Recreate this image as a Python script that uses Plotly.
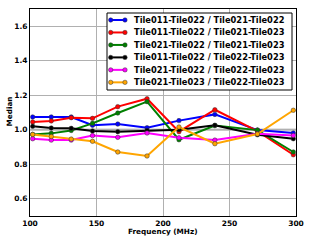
import plotly.graph_objects as go

freq = [102, 116, 131, 147, 166, 188, 212, 239, 271, 298]

names = [
    "Tile011-Tile022 / Tile021-Tile022",
    "Tile011-Tile022 / Tile021-Tile023",
    "Tile021-Tile022 / Tile021-Tile023",
    "Tile011-Tile022 / Tile022-Tile023",
    "Tile021-Tile022 / Tile022-Tile023",
    "Tile021-Tile023 / Tile022-Tile023",
]
colors = ["#0000ff", "#ff0000", "#008000", "#000000", "#ff00ff", "#ffa500"]

blue = [1.074, 1.074, 1.074, 1.026, 1.033, 1.012, 1.053, 1.089, 0.998, 0.981]
red = [1.045, 1.051, 1.070, 1.066, 1.134, 1.180, 0.989, 1.116, 0.992, 0.855]
green = [0.973, 0.979, 0.996, 1.037, 1.097, 1.163, 0.942, 1.024, 0.998, 0.871]
black = [1.020, 1.010, 1.008, 0.993, 0.989, 0.996, 1.000, 1.026, 0.971, 0.948]
magenta = [0.948, 0.940, 0.940, 0.966, 0.956, 0.981, 0.954, 0.940, 0.977, 0.967]
orange = [0.973, 0.961, 0.946, 0.933, 0.871, 0.848, 1.016, 0.919, 0.975, 1.113]

series = [blue, red, green, black, magenta, orange]

xticks = [100, 150, 200, 250, 300]
yticks = [0.6, 0.8, 1.0, 1.2, 1.4, 1.6]

W, H = 331, 242
ML, MR, MT, MB = 30, 35, 9, 26
PW, PH = W - ML - MR, H - MT - MB

def px(xp):
    return (xp - ML) / PW

def py(yp):
    return 1 - (yp - MT) / PH

FONT = "DejaVu Sans"

fig = go.Figure()
for name, col, vals in zip(names, colors, series):
    fig.add_trace(go.Scatter(
        x=freq, y=vals, name=name, mode="lines+markers",
        line=dict(color=col, width=2),
        marker=dict(color=col, size=4.5, line=dict(color="#333333", width=0.5)),
        showlegend=False,
    ))

shapes = []
shapes.append(dict(type="line", xref="paper", yref="y", x0=0, x1=1, y0=1.0, y1=1.0,
                   line=dict(color="#c8c8c8", width=2.5), layer="below"))

lx0, lx1, ly0, ly1 = 107, 292, 13, 90
shapes.append(dict(type="rect", xref="paper", yref="paper",
                   x0=px(lx0), x1=px(lx1), y0=py(ly1), y1=py(ly0),
                   line=dict(color="black", width=1), fillcolor="white"))
annotations = []
row_y0, row_dy = 20.0, 12.47
for i, (name, col) in enumerate(zip(names, colors)):
    yy = py(row_y0 + i * row_dy)
    shapes.append(dict(type="line", xref="paper", yref="paper",
                       x0=px(110.7), x1=px(125), y0=yy, y1=yy,
                       line=dict(color=col, width=2)))
    for cx in (110.7, 125):
        shapes.append(dict(type="circle", xref="paper", yref="paper",
                           xsizemode="pixel", ysizemode="pixel",
                           xanchor=px(cx), yanchor=yy,
                           x0=-2.2, x1=2.2, y0=-2.2, y1=2.2,
                           fillcolor=col, line=dict(color="#333333", width=0.5)))
    annotations.append(dict(xref="paper", yref="paper", x=px(132.5), y=yy,
                            xanchor="left", yanchor="middle", showarrow=False,
                            borderpad=0,
                            text="<b>%s</b>" % name,
                            font=dict(family=FONT, size=8.3, color="black")))

annotations.append(dict(xref="paper", yref="paper", x=px((29.5 + 296) / 2), y=py(231),
                        xanchor="center", yanchor="middle", showarrow=False, borderpad=0,
                        text="<b>Frequency (MHz)</b>", font=dict(family=FONT, size=7.3, color="black")))
annotations.append(dict(xref="paper", yref="paper", x=px(8.5), y=py(112),
                        xanchor="center", yanchor="middle", showarrow=False, borderpad=0,
                        textangle=-90,
                        text="<b>Median</b>", font=dict(family=FONT, size=7.3, color="black")))

fig.update_layout(
    width=W, height=H,
    margin=dict(l=ML, r=MR, t=MT, b=MB, autoexpand=False),
    paper_bgcolor="white", plot_bgcolor="white",
    font=dict(family=FONT, color="black"),
    shapes=shapes, annotations=annotations,
    xaxis=dict(range=[100, 300], tickvals=xticks,
               ticktext=["<b>%d</b>" % v for v in xticks],
               showgrid=True, gridcolor="#b0b0b0", gridwidth=1,
               showline=True, linecolor="black", linewidth=1, mirror=True,
               zeroline=False, tickfont=dict(size=7.5, family=FONT),
               automargin=False, ticklen=0),
    yaxis=dict(range=[0.5, 1.7], tickvals=yticks,
               ticktext=["<b>%.1f</b>" % v for v in yticks],
               showgrid=True, gridcolor="#b0b0b0", gridwidth=1,
               showline=True, linecolor="black", linewidth=1, mirror=True,
               zeroline=False, tickfont=dict(size=7.5, family=FONT),
               automargin=False, ticklen=0),
)

fig.write_html("out.html", config={"displayModeBar": False},
               post_script="document.body.style.margin='0';document.body.style.overflow='hidden';")
